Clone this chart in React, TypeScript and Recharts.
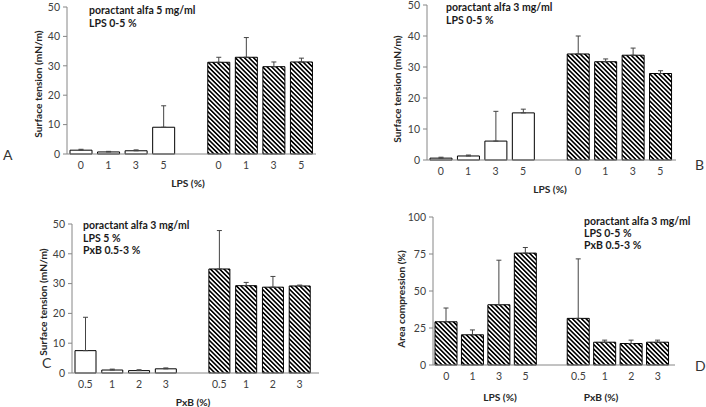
import React from 'react';
import { BarChart, Bar, XAxis, YAxis, ErrorBar, Cell } from 'recharts';

// ---- data ----
const lpsTicks = ['0', '1', '3', '5', '', '0', '1', '3', '5'];
const pxbTicks = ['0.5', '1', '2', '3', '', '0.5', '1', '2', '3'];
const dTicks = ['0', '1', '3', '5', '', '0.5', '1', '2', '3'];

const aValues = [1.3, 0.7, 1.1, 9.1, null, 31.2, 32.9, 29.7, 31.3];
const aErrors = [0.3, 0.2, 0.3, 7.3, null, 1.7, 6.7, 1.6, 1.3];

const bValues = [0.6, 1.3, 6.1, 15.2, null, 34.2, 31.7, 33.8, 27.9];
const bErrors = [0.3, 0.3, 9.6, 1.2, null, 5.8, 0.9, 2.3, 0.9];

const cValues = [7.5, 1.0, 0.8, 1.4, null, 34.9, 29.3, 28.8, 29.2];
const cErrors = [11.2, 0.3, 0.3, 0.3, null, 12.9, 1.1, 3.6, 0.3];

const dValues = [29.2, 20.4, 40.7, 75.6, null, 31.5, 15.4, 14.5, 15.4];
const dErrors = [9.3, 3.3, 30.1, 3.8, null, 40.2, 1.4, 2.3, 1.4];

const whiteThenHatched = [false, false, false, false, false, true, true, true, true];
const allHatched = [true, true, true, true, true, true, true, true, true];

const tensionTicks = [0, 10, 20, 30, 40, 50];
const compressionTicks = [0, 25, 50, 75, 100];

const FONT = 'Lato, "Open Sans", sans-serif';
const AXIS = '#868686';
const TICK = '#404040';

type PanelProps = {
  id: string;
  left: number;
  top: number;
  width: number;
  height: number;
  margin: { top: number; right: number; bottom: number; left: number };
  padRight: number;
  barSize: number;
  labels: string[];
  values: (number | null)[];
  errors: (number | null)[];
  hatched: boolean[];
  yMax: number;
  yTicks: number[];
};

function Panel(p: PanelProps) {
  const rows = p.labels.map((label, i) => ({
    idx: i,
    label,
    value: p.values[i],
    err: p.errors[i] == null ? undefined : [0, p.errors[i] as number],
    hatched: p.hatched[i],
  }));
  const pid = 'hatch-' + p.id;
  return (
    <div style={{ position: 'absolute', left: p.left, top: p.top, width: p.width, height: p.height }}>
      <BarChart width={p.width} height={p.height} data={rows} margin={p.margin} barSize={p.barSize}>
        <defs>
          <pattern
            id={pid}
            width={3.2}
            height={10}
            patternUnits="userSpaceOnUse"
            patternTransform="rotate(-45)"
          >
            <rect x={0} y={0} width={3.2} height={10} fill="#fff" />
            <rect x={0} y={0} width={1.6} height={10} fill="#000" />
          </pattern>
        </defs>
        <XAxis
          dataKey="idx"
          type="category"
          interval={0}
          tickLine={false}
          axisLine={{ stroke: AXIS }}
          tickFormatter={(i: number) => p.labels[i]}
          tick={{ fill: TICK, fontSize: 10.5, fontFamily: FONT }}
          height={30}
          padding={{ left: 0, right: p.padRight }}
        />
        <YAxis
          type="number"
          domain={[0, p.yMax]}
          ticks={p.yTicks}
          interval={0}
          width={40}
          tickSize={4}
          tickMargin={3}
          tickLine={{ stroke: AXIS }}
          axisLine={{ stroke: AXIS }}
          tick={{ fill: TICK, fontSize: 10.5, fontFamily: FONT }}
        />
        <Bar dataKey="value" stroke="#000" strokeWidth={1} isAnimationActive={false}>
          {rows.map((r) => (
            <Cell key={r.idx} fill={r.hatched ? `url(#${pid})` : '#fff'} />
          ))}
          <ErrorBar dataKey="err" direction="y" width={2.5} stroke="#444" strokeWidth={1} />
        </Bar>
      </BarChart>
    </div>
  );
}

const note = { fontFamily: FONT, fontSize: 10.5, fontWeight: 700, fill: '#1a1a1a' } as const;
const title = { fontFamily: FONT, fontSize: 10.2, fontWeight: 700, fill: '#262626' } as const;
const letter = { fontFamily: FONT, fontSize: 14, fill: '#333' } as const;

export default function App() {
  return (
    <div style={{ position: 'absolute', left: 0, top: 0, width: 706, height: 407, background: '#fff', overflow: 'hidden' }}>
      <Panel
        id="a" left={0} top={0} width={353} height={200}
        margin={{ top: 7, right: 37, bottom: 16, left: 27 }} padRight={1} barSize={22}
        labels={lpsTicks} values={aValues} errors={aErrors} hatched={whiteThenHatched}
        yMax={50} yTicks={tensionTicks}
      />
      <Panel
        id="b" left={353} top={0} width={353} height={200}
        margin={{ top: 5, right: 30, bottom: 10, left: 34 }} padRight={2} barSize={22}
        labels={lpsTicks} values={bValues} errors={bErrors} hatched={whiteThenHatched}
        yMax={50} yTicks={tensionTicks}
      />
      <Panel
        id="c" left={0} top={200} width={353} height={207}
        margin={{ top: 24, right: 34, bottom: 4, left: 32 }} padRight={6} barSize={21}
        labels={pxbTicks} values={cValues} errors={cErrors} hatched={whiteThenHatched}
        yMax={50} yTicks={tensionTicks}
      />
      <Panel
        id="d" left={353} top={200} width={353} height={207}
        margin={{ top: 17, right: 31, bottom: 12, left: 40 }} padRight={4} barSize={22}
        labels={dTicks} values={dValues} errors={dErrors} hatched={allHatched}
        yMax={100} yTicks={compressionTicks}
      />
      <svg width={706} height={407} style={{ position: 'absolute', left: 0, top: 0, pointerEvents: 'none' }}>
        {/* Panel A */}
        <text x={89} y={13.5} {...note}>poractant alfa 5 mg/ml</text>
        <text x={89} y={26.5} {...note}>LPS 0-5 %</text>
        <text transform="translate(41.5,84) rotate(-90)" textAnchor="middle" {...title}>Surface tension (mN/m)</text>
        <text x={188} y={186.5} textAnchor="middle" {...title}>LPS (%)</text>
        <text x={3} y={160} {...letter}>A</text>

        {/* Panel B */}
        <text x={446} y={10.5} {...note}>poractant alfa 3 mg/ml</text>
        <text x={446} y={24} {...note}>LPS 0-5 %</text>
        <text transform="translate(400.5,89) rotate(-90)" textAnchor="middle" {...title}>Surface tension (mN/m)</text>
        <text x={550} y={192.5} textAnchor="middle" {...title}>LPS (%)</text>
        <text x={695} y={170} {...letter}>B</text>

        {/* Panel C */}
        <text x={83} y={228.5} {...note}>poractant alfa 3 mg/ml</text>
        <text x={83} y={241.5} {...note}>LPS 5 %</text>
        <text x={83} y={253.5} {...note}>PxB 0.5-3  %</text>
        <text transform="translate(46.5,302) rotate(-90)" textAnchor="middle" {...title}>Surface tension (mN/m)</text>
        <text x={193} y={405.5} textAnchor="middle" {...title}>PxB (%)</text>
        <text x={42} y={368} {...letter}>C</text>

        {/* Panel D */}
        <text x={584} y={224.5} {...note}>poractant alfa 3 mg/ml</text>
        <text x={584} y={236.5} {...note}>LPS 0-5 %</text>
        <text x={584} y={248.5} {...note}>PxB 0.5-3  %</text>
        <text transform="translate(404.5,299) rotate(-90)" textAnchor="middle" {...title}>Area compression (%)</text>
        <text x={500} y={400.5} textAnchor="middle" {...title}>LPS (%)</text>
        <text x={601} y={400.5} textAnchor="middle" {...title}>PxB (%)</text>
        <text x={695} y={371} {...letter}>D</text>
      </svg>
    </div>
  );
}
